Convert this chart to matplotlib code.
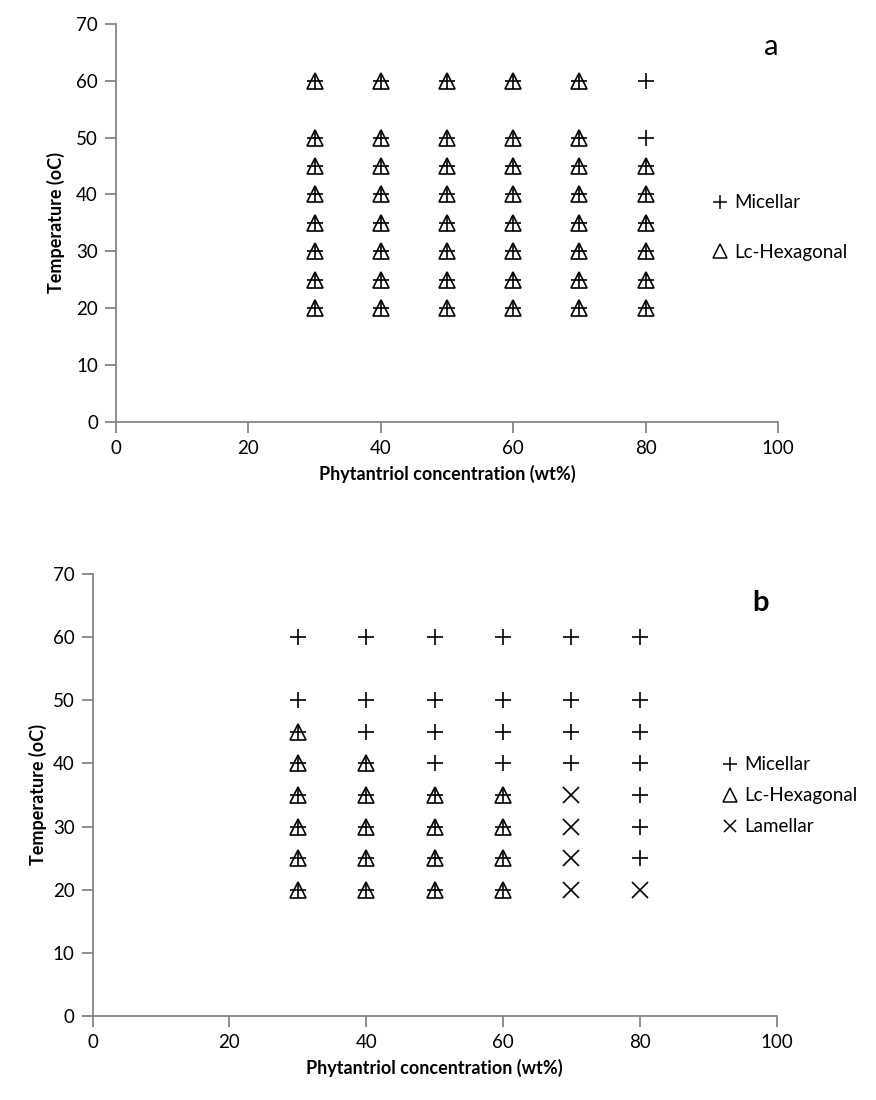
import matplotlib
matplotlib.use('Agg')
import matplotlib.pyplot as plt
from matplotlib.lines import Line2D

plt.rcParams['font.family'] = ['Lato', 'DejaVu Sans']

# chart a: temperature values at each concentration
a_mic = {30: [20, 25, 30, 35, 40, 45, 50, 60],
         40: [20, 25, 30, 35, 40, 45, 50, 60],
         50: [20, 25, 30, 35, 40, 45, 50, 60],
         60: [20, 25, 30, 35, 40, 45, 50, 60],
         70: [20, 25, 30, 35, 40, 45, 50, 60],
         80: [20, 25, 30, 35, 40, 45, 50, 60]}
a_hex = {30: [20, 25, 30, 35, 40, 45, 50, 60],
         40: [20, 25, 30, 35, 40, 45, 50, 60],
         50: [20, 25, 30, 35, 40, 45, 50, 60],
         60: [20, 25, 30, 35, 40, 45, 50, 60],
         70: [20, 25, 30, 35, 40, 45, 50, 60],
         80: [20, 25, 30, 35, 40, 45]}

# chart b
b_mic = {30: [20, 25, 30, 35, 40, 45, 50, 60],
         40: [20, 25, 30, 35, 40, 45, 50, 60],
         50: [20, 25, 30, 35, 40, 45, 50, 60],
         60: [20, 25, 30, 35, 40, 45, 50, 60],
         70: [40, 45, 50, 60],
         80: [25, 30, 35, 40, 45, 50, 60]}
b_hex = {30: [20, 25, 30, 35, 40, 45],
         40: [20, 25, 30, 35, 40],
         50: [20, 25, 30, 35],
         60: [20, 25, 30, 35]}
b_lam = {70: [20, 25, 30, 35],
         80: [20]}

def flat(d):
    xs, ys = [], []
    for k, v in d.items():
        xs += [k] * len(v)
        ys += v
    return xs, ys

grey = '#868686'
ms = 12
mew = 1.2
fs = 13.5

def style(ax):
    ax.set_xlim(0, 100)
    ax.set_ylim(0, 70)
    ax.set_xticks(range(0, 101, 20))
    ax.set_yticks(range(0, 71, 10))
    for s in ['top', 'right']:
        ax.spines[s].set_visible(False)
    for s in ['left', 'bottom']:
        ax.spines[s].set_color(grey)
        ax.spines[s].set_linewidth(1.3)
    ax.tick_params(direction='out', length=8, width=1.3, color=grey,
                   labelsize=fs, pad=5)
    ax.set_xlabel('Phytantriol concentration (wt%)', fontsize=13,
                  fontweight='bold', labelpad=6)
    ax.set_ylabel('Temperature (oC)', fontsize=13, fontweight='bold')

def handles(n):
    h = [Line2D([], [], ls='none', marker='+', ms=10, mec='black', mew=1.1),
         Line2D([], [], ls='none', marker='^', ms=10, mfc='none', mec='black', mew=1.1),
         Line2D([], [], ls='none', marker='x', ms=9, mec='black', mew=1.1)]
    return h[:n]

fig = plt.figure(figsize=(8.76, 11), dpi=100)

ax1 = fig.add_axes([0.1324, 0.6166, 0.7557, 0.3616])
x, y = flat(a_hex)
ax1.plot(x, y, '^', ms=ms, mfc='none', mec='black', mew=mew, clip_on=False)
x, y = flat(a_mic)
ax1.plot(x, y, '+', ms=ms, mec='black', mew=mew, clip_on=False)
style(ax1)
ax1.yaxis.labelpad = 8
ax1.text(0.99, 0.942, 'a', transform=ax1.transAxes, fontsize=21,
         ha='center', va='center')
ax1.legend(handles(2), ['Micellar', 'Lc-Hexagonal'], loc='center left',
           bbox_to_anchor=(0.9, 0.488), frameon=False, fontsize=fs,
           handlelength=0.9, handletextpad=0.3, labelspacing=1.75,
           borderpad=0, borderaxespad=0)

ax2 = fig.add_axes([0.1058, 0.0764, 0.7808, 0.4018])
x, y = flat(b_hex)
ax2.plot(x, y, '^', ms=ms, mfc='none', mec='black', mew=mew, clip_on=False)
x, y = flat(b_mic)
ax2.plot(x, y, '+', ms=ms, mec='black', mew=mew, clip_on=False)
x, y = flat(b_lam)
ax2.plot(x, y, 'x', ms=ms, mec='black', mew=mew, clip_on=False)
style(ax2)
ax2.text(0.976, 0.934, 'b', transform=ax2.transAxes, fontsize=21,
         fontweight='bold', ha='center', va='center')
ax2.legend(handles(3), ['Micellar', 'Lc-Hexagonal', 'Lamellar'], loc='center left',
           bbox_to_anchor=(0.92, 0.498), frameon=False, fontsize=fs,
           handlelength=0.9, handletextpad=0.3, labelspacing=0.75,
           borderpad=0, borderaxespad=0)

fig.savefig('out.png', dpi=100)
